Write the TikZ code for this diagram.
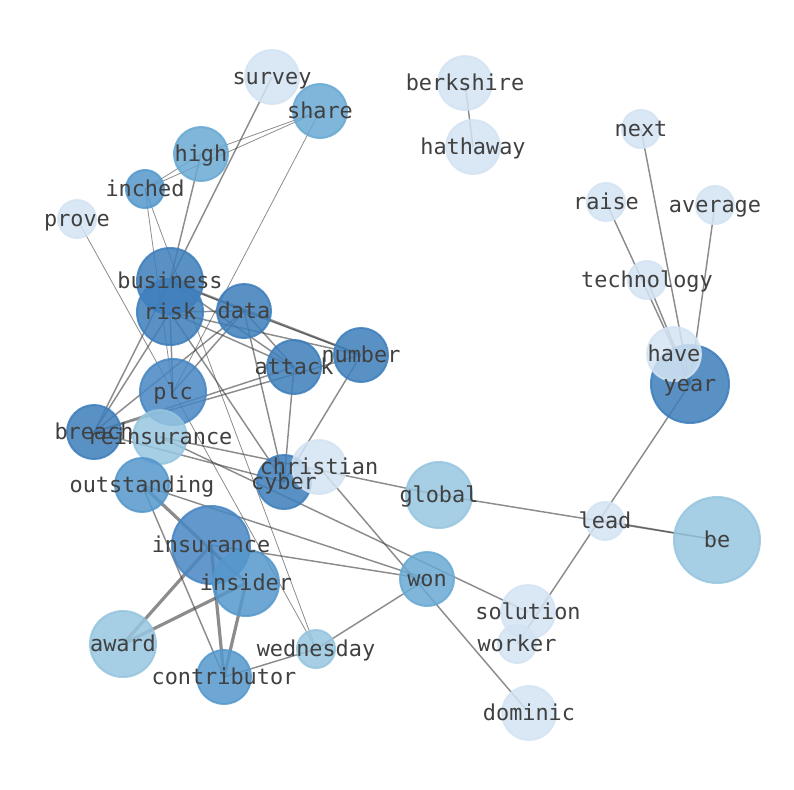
\documentclass[tikz,border=0pt]{standalone}
\usepackage{fontspec}
\usepackage{tikz}
\usetikzlibrary{positioning}
\newfontfamily\wordfont{DejaVu Sans Mono}
\definecolor{bluea}{HTML}{D3E3F3}
\definecolor{blueb}{HTML}{96C5DF}
\definecolor{bluec}{HTML}{68A9D3}
\definecolor{blued}{HTML}{5598CC}
\definecolor{bluee}{HTML}{4786C2}
\definecolor{bluef}{HTML}{3D7EBB}
\definecolor{wordgray}{HTML}{404040}
\pgfdeclarelayer{edges}
\pgfdeclarelayer{words}
\pgfsetlayers{edges,main,words}
\tikzset{
  word/.style={circle, inner sep=0pt, fill opacity=0.85, draw opacity=0.85, line width=1.5pt},
  tiny/.style={minimum size=28.5pt},
  small/.style={minimum size=40.5pt},
  mid/.style={minimum size=49.5pt},
  big/.style={minimum size=58.5pt},
  huge/.style={minimum size=64.5pt},
  lbl/.style={text=wordgray, font=\wordfont\fontsize{16.4}{18}\selectfont, inner sep=0pt,
    text height=0.76em, text depth=0.24em, yshift=-3.3pt},
  link/.style={draw=black!75, draw opacity=0.6, line width=1.1pt},
  thin link/.style={draw=black!75, draw opacity=0.6, line width=0.6pt},
  thick link/.style={draw=black!75, draw opacity=0.6, line width=2.4pt},
}

\begin{document}
\begin{tikzpicture}[x=0.75pt, y=-0.75pt]
  \useasboundingbox (0,0) rectangle (794,790);
  % words
  \node [word, small, fill=bluea, draw=bluea] (survey) at (272,77) {};
  \node [word, small, fill=bluec, draw=bluec] (share) at (320,111) {};
  \node [word, small, fill=bluec, draw=bluec] (high) at (201,154) {};
  \node [word, tiny, fill=blued, draw=blued] (inched) at (145,189) {};
  \node [word, tiny, fill=bluea, draw=bluea] (prove) at (77,219) {};
  \node [word, small, fill=bluea, draw=bluea] (berkshire) at (465,83) {};
  \node [word, small, fill=bluea, draw=bluea] (hathaway) at (473,147) {};
  \node [word, tiny, fill=bluea, draw=bluea] (next) at (641,129) {};
  \node [word, tiny, fill=bluea, draw=bluea] (raise) at (606,202) {};
  \node [word, tiny, fill=bluea, draw=bluea] (average) at (715,205) {};
  \node [word, tiny, fill=bluea, draw=bluea] (technology) at (647,280) {};
  \node [word, big, fill=bluef, draw=bluef] (year) at (690,384) {};
  \node [word, small, fill=bluea, draw=bluea] (have) at (674,354) {};
  \node [word, mid, fill=bluef, draw=bluef] (risk) at (170,312) {};
  \node [word, mid, fill=bluef, draw=bluef] (business) at (170,281) {};
  \node [word, small, fill=bluef, draw=bluef] (data) at (244,311) {};
  \node [word, small, fill=bluef, draw=bluef] (number) at (361,355) {};
  \node [word, small, fill=bluef, draw=bluef] (attack) at (294,367) {};
  \node [word, mid, fill=bluee, draw=bluee] (plc) at (173,392) {};
  \node [word, small, fill=bluef, draw=bluef] (breach) at (94,432) {};
  \node [word, small, fill=blueb, draw=blueb] (reinsurance) at (160,437) {};
  \node [word, small, fill=bluef, draw=bluef] (cyber) at (284,482) {};
  \node [word, small, fill=bluea, draw=bluea] (christian) at (319,467) {};
  \node [word, mid, fill=blueb, draw=blueb] (global) at (439,495) {};
  \node [word, small, fill=blued, draw=blued] (outstanding) at (142,485) {};
  \node [word, tiny, fill=bluea, draw=bluea] (lead) at (605,521) {};
  \node [word, huge, fill=blueb, draw=blueb] (be) at (717,540) {};
  \node [word, big, fill=bluee, draw=bluee] (insurance) at (211,545) {};
  \node [word, mid, fill=blued, draw=blued] (insider) at (246,583) {};
  \node [word, small, fill=bluec, draw=bluec] (won) at (427,579) {};
  \node [word, small, fill=bluea, draw=bluea] (solution) at (528,612) {};
  \node [word, tiny, fill=bluea, draw=bluea] (worker) at (517,644) {};
  \node [word, mid, fill=blueb, draw=blueb] (award) at (123,644) {};
  \node [word, tiny, fill=blueb, draw=blueb] (wednesday) at (316,649) {};
  \node [word, small, fill=blued, draw=blued] (contributor) at (224,677) {};
  \node [word, small, fill=bluea, draw=bluea] (dominic) at (529,713) {};

  % links
  \begin{pgfonlayer}{edges}
    \draw [link] (berkshire.center) -- (hathaway.center);
    \draw [link] (next.center) -- (year.center);
    \draw [link] (raise.center) -- (year.center);
    \draw [link] (technology.center) -- (year.center);
    \draw [link] (average.center) -- (year.center);
    \draw [link] (year.center) -- (worker.center);
    \draw [link] (global.center) -- (be.center);
    \draw [link] (lead.center) -- (be.center);
    \draw [link] (reinsurance.center) -- (global.center);
    \draw [link] (survey.center) -- (business.center);
    \draw [thin link] (share.center) -- (inched.center);
    \draw [thin link] (share.center) -- (high.center);
    \draw [thin link] (high.center) -- (inched.center);
    \draw [link] (high.center) -- (business.center);
    \draw [thin link] (share.center) -- (plc.center);
    \draw [thin link] (inched.center) -- (plc.center);
    \draw [thin link] (inched.center) -- (wednesday.center);
    \draw [thin link] (prove.center) -- (wednesday.center);
    \draw [link] (business.center) -- (data.center);
    \draw [link, line width=1.6pt] (business.center) -- (number.center);
    \draw [link] (business.center) -- (attack.center);
    \draw [link] (risk.center) -- (data.center);
    \draw [link] (risk.center) -- (attack.center);
    \draw [link] (risk.center) -- (number.center);
    \draw [link] (business.center) -- (breach.center);
    \draw [link] (risk.center) -- (breach.center);
    \draw [link] (data.center) -- (breach.center);
    \draw [link] (attack.center) -- (breach.center);
    \draw [link] (number.center) -- (breach.center);
    \draw [link] (data.center) -- (attack.center);
    \draw [link] (data.center) -- (number.center);
    \draw [link] (data.center) -- (cyber.center);
    \draw [link] (attack.center) -- (cyber.center);
    \draw [link] (number.center) -- (cyber.center);
    \draw [link] (risk.center) -- (cyber.center);
    \draw [link] (risk.center) -- (plc.center);
    \draw [link] (data.center) -- (plc.center);
    \draw [link] (breach.center) -- (cyber.center);
    \draw [link] (reinsurance.center) -- (solution.center);
    \draw [link] (christian.center) -- (dominic.center);
    \draw [link] (outstanding.center) -- (won.center);
    \draw [thick link] (outstanding.center) -- (insider.center);
    \draw [link] (outstanding.center) -- (contributor.center);
    \draw [link] (insurance.center) -- (won.center);
    \draw [thick link] (insurance.center) -- (award.center);
    \draw [thick link] (insider.center) -- (award.center);
    \draw [thick link] (insurance.center) -- (contributor.center);
    \draw [thick link] (insider.center) -- (contributor.center);
    \draw [link] (contributor.center) -- (wednesday.center);
    \draw [link] (wednesday.center) -- (won.center);
  \end{pgfonlayer}

  % labels
  \begin{pgfonlayer}{words}
    \node [lbl] at (survey) {survey};
    \node [lbl] at (share) {share};
    \node [lbl] at (high) {high};
    \node [lbl] at (inched) {inched};
    \node [lbl] at (prove) {prove};
    \node [lbl] at (berkshire) {berkshire};
    \node [lbl] at (hathaway) {hathaway};
    \node [lbl] at (next) {next};
    \node [lbl] at (raise) {raise};
    \node [lbl] at (average) {average};
    \node [lbl] at (technology) {technology};
    \node [lbl] at (have) {have};
    \node [lbl] at (year) {year};
    \node [lbl] at (business) {business};
    \node [lbl] at (risk) {risk};
    \node [lbl] at (data) {data};
    \node [lbl] at (number) {number};
    \node [lbl] at (attack) {attack};
    \node [lbl] at (plc) {plc};
    \node [lbl] at (breach) {breach};
    \node [lbl] at (reinsurance) {reinsurance};
    \node [lbl] at (christian) {christian};
    \node [lbl] at (cyber) {cyber};
    \node [lbl] at (global) {global};
    \node [lbl] at (outstanding) {outstanding};
    \node [lbl] at (lead) {lead};
    \node [lbl] at (be) {be};
    \node [lbl] at (insurance) {insurance};
    \node [lbl] at (insider) {insider};
    \node [lbl] at (won) {won};
    \node [lbl] at (solution) {solution};
    \node [lbl] at (worker) {worker};
    \node [lbl] at (award) {award};
    \node [lbl] at (wednesday) {wednesday};
    \node [lbl] at (contributor) {contributor};
    \node [lbl] at (dominic) {dominic};
  \end{pgfonlayer}
\end{tikzpicture}
\end{document}
